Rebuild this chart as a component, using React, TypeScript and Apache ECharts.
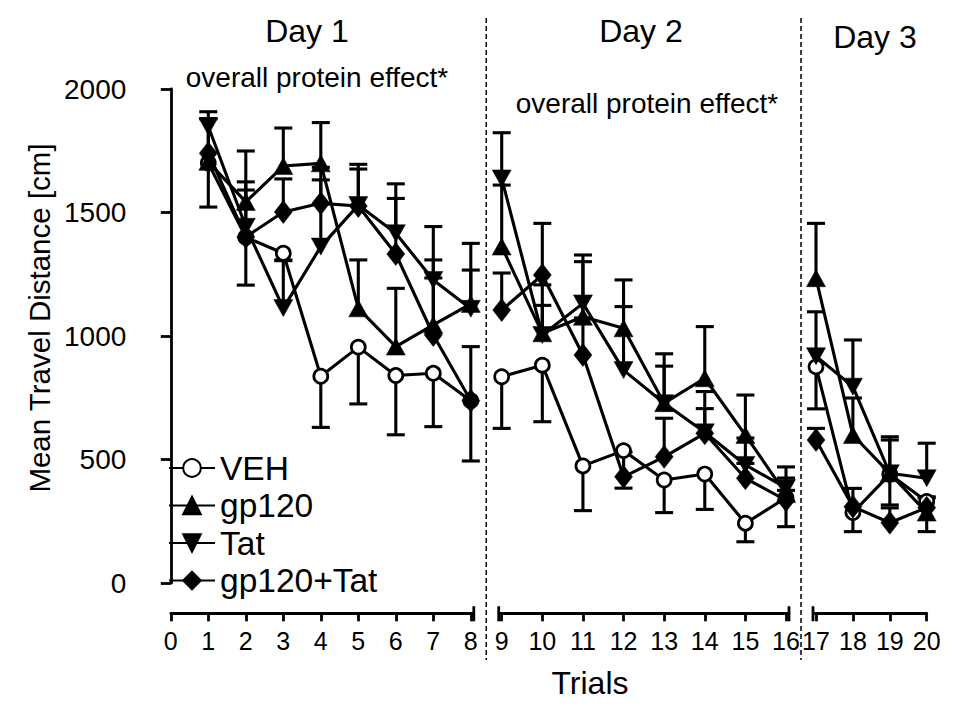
import React, { useEffect, useRef } from "react";
import * as echarts from "echarts";

const day1Trials = [1, 2, 3, 4, 5, 6, 7, 8];
const day2Trials = [9, 10, 11, 12, 13, 14, 15, 16];
const day3Trials = [17, 18, 19, 20];
const dayLabels = ["Day 1", "Day 2", "Day 3"];
const effectLabel = "overall protein effect*";

const vehMean = [1700, 1400, 1335, 837, 955, 840, 849, 738, 835, 882, 474, 536, 417, 441, 242, 345, 875, 285, 440, 330];
const vehSem = [178, 194, 30, 207, 230, 240, 216, 244, 209, 229, 181, 152, 132, 143, 75, 117, 170, 77, 124, 122];
const gp120Mean = [1705, 1543, 1688, 1699, 1112, 957, 1045, 1130, 1362, 1011, 1078, 1031, 728, 829, 599, 360, 1234, 599, 444, 285];
const gp120Sem = [175, 206, 154, 165, 196, 236, 263, 245, 249, 196, 223, 196, 200, 209, 162, 65, 222, 150, 148, 64];
const tatMean = [1848, 1442, 1113, 1362, 1530, 1416, 1227, 1110, 1638, 1004, 1132, 862, 728, 610, 478, 385, 918, 795, 444, 424];
const tatSem = [60, 182, 195, 270, 165, 200, 216, 157, 185, 120, 196, 257, 150, 165, 109, 85, 180, 189, 135, 142];
const comboMean = [1740, 1401, 1502, 1537, 1526, 1332, 1004, 738, 1105, 1247, 923, 430, 511, 606, 424, 335, 579, 309, 244, 305];
const comboSem = [140, 190, 134, 146, 150, 225, 231, 219, 150, 209, 150, 100, 156, 100, 60, 40, 47, 74, 60, 40];

const yTicks = [0, 500, 1000, 1500, 2000];

const FONT = "'Liberation Sans', Arial, Helvetica, sans-serif";

const days = [day1Trials, day2Trials, day3Trials];
const dayMins = [0, 9, 17];
const dayMaxs = [8, 16, 20];

const groups = [
  { name: "VEH", mean: vehMean, sem: vehSem, dir: -1, symbol: "circle", size: 14, rotate: 0, fill: "#fff" },
  { name: "gp120", mean: gp120Mean, sem: gp120Sem, dir: 1, symbol: "triangle", size: [19, 17], rotate: 0, fill: "#000" },
  { name: "Tat", mean: tatMean, sem: tatSem, dir: 1, symbol: "triangle", size: [19, 17], rotate: 180, fill: "#000" },
  { name: "gp120+Tat", mean: comboMean, sem: comboSem, dir: 1, symbol: "diamond", size: [18, 23], rotate: 0, fill: "#000" },
];

function trialIndex(t: number) {
  return t - 1;
}

export default function App() {
  const ref = useRef<HTMLDivElement>(null);
  useEffect(() => {
    if (!ref.current) return;
    const chart = echarts.init(ref.current, null, { renderer: "svg" });

    const grids = [
      { left: 170.8, width: 300, top: 89, height: 494 },
      { left: 501.7, width: 284.3, top: 89, height: 494 },
      { left: 816, width: 110.7, top: 89, height: 494 },
    ];

    const xAxes = grids.map((_, i) => ({
      type: "value",
      gridIndex: i,
      min: dayMins[i],
      max: dayMaxs[i],
      interval: 1,
      offset: 30.3,
      axisLine: { show: true, onZero: false, lineStyle: { color: "#000", width: 2.8 } },
      axisTick: { show: true, length: 8, lineStyle: { color: "#000", width: 2.8 } },
      axisLabel: {
        show: true,
        fontSize: 25,
        fontFamily: FONT,
        color: "#000",
        margin: 15,
        formatter: (v: number) => (Number.isInteger(v) ? String(v) : ""),
      },
      splitLine: { show: false },
    }));

    const yAxes = grids.map((_, i) => ({
      type: "value",
      gridIndex: i,
      min: yTicks[0],
      max: yTicks[yTicks.length - 1],
      interval: yTicks[1] - yTicks[0],
      show: i === 0,
      offset: 30,
      axisLine: { show: true, lineStyle: { color: "#000", width: 2.8 } },
      axisTick: { show: true, length: 10, lineStyle: { color: "#000", width: 2.8 } },
      axisLabel: {
        show: true,
        fontSize: 28,
        fontFamily: FONT,
        color: "#000",
        margin: 14.5,
        formatter: (v: number) => String(v),
      },
      splitLine: { show: false },
    }));

    const series: any[] = [];
    days.forEach((trials, d) => {
      const errData: number[][] = [];
      groups.forEach((g) => {
        trials.forEach((t) => {
          const k = trialIndex(t);
          errData.push([t, g.mean[k], g.sem[k], g.dir]);
        });
      });
      series.push({
        type: "custom",
        xAxisIndex: d,
        yAxisIndex: d,
        z: 1,
        silent: true,
        data: errData,
        encode: { x: 0, y: 1 },
        renderItem: (params: any, api: any) => {
          const x = api.value(0);
          const y = api.value(1);
          const e = api.value(2);
          const dir = api.value(3);
          const p0 = api.coord([x, y]);
          const p1 = api.coord([x, y + dir * e]);
          const hw = 9;
          return {
            type: "group",
            children: [
              { type: "line", shape: { x1: p0[0], y1: p0[1], x2: p1[0], y2: p1[1] }, style: { stroke: "#000", lineWidth: 3.1 } },
              { type: "line", shape: { x1: p1[0] - hw, y1: p1[1], x2: p1[0] + hw, y2: p1[1] }, style: { stroke: "#000", lineWidth: 3.1 } },
            ],
          };
        },
      });
      groups.forEach((g, gi) => {
        series.push({
          type: "line",
          name: g.name,
          xAxisIndex: d,
          yAxisIndex: d,
          z: 2 + gi,
          data: trials.map((t) => [t, g.mean[trialIndex(t)]]),
          symbol: g.symbol,
          symbolSize: g.size,
          symbolRotate: g.rotate,
          showAllSymbol: true,
          lineStyle: { color: "#000", width: 3.1 },
          itemStyle: { color: g.fill, borderColor: "#000", borderWidth: g.name === "VEH" ? 2.7 : 0.5, opacity: 1 },
          emphasis: { disabled: true },
        });
      });
    });

    const txt = (text: string, x: number, y: number, size: number, extra: any = {}) => ({
      type: "text",
      x,
      y,
      ...extra,
      style: { text, fontSize: size, fontFamily: FONT, fill: "#000", align: "center", verticalAlign: "middle" },
    });

    const texts: any[] = [
      txt(dayLabels[0], 307, 31, 32),
      txt(dayLabels[1], 641, 31, 32),
      txt(dayLabels[2], 875, 37, 32),
      txt(effectLabel, 317, 77, 28),
      txt(effectLabel, 647, 103, 28),
      txt("Trials", 590, 683, 32),
      txt("Mean Travel Distance [cm]", 39, 318, 29.5, { rotation: Math.PI / 2 }),
    ];

    chart.setOption({
      animation: false,
      backgroundColor: "#fff",
      grid: grids,
      xAxis: xAxes,
      yAxis: yAxes,
      legend: {
        data: groups.map((g) => g.name),
        orient: "vertical",
        left: 168,
        top: 451,
        padding: 0,
        itemWidth: 46,
        itemHeight: 22,
        itemGap: 3.5,
        selectedMode: false,
        textStyle: { fontSize: 33.5, fontFamily: FONT, color: "#000", lineHeight: 33 },
      },
      series,
      graphic: texts,
    });

    const axisY = (chart.convertToPixel({ yAxisIndex: 0 }, 0) as number) + 30.3;
    const px = (gi: number, v: number) => chart.convertToPixel({ xAxisIndex: gi }, v) as number;
    const cap = (x: number, ext: number) => ({
      type: "polyline",
      shape: { points: [[x, axisY], [x + ext, axisY], [x + ext, axisY - 7], [x + ext, axisY + 8]] },
      style: { stroke: "#000", lineWidth: 2.8, fill: null },
    });
    const sep1 = (px(0, 8) + px(1, 9)) / 2;
    const sep2 = (px(1, 16) + px(2, 17)) / 2;
    const dash = (x: number) => ({
      type: "line",
      shape: { x1: x, y1: 18, x2: x, y2: 660 },
      style: { stroke: "#000", lineWidth: 1.5, lineDash: [5, 3] },
    });
    chart.setOption({
      graphic: [
        ...texts,
        cap(px(0, 8), 3),
        cap(px(1, 9), -3),
        cap(px(1, 16), 3),
        cap(px(2, 17), -3),
        dash(sep1),
        dash(sep2),
      ],
    });

    return () => chart.dispose();
  }, []);
  return <div ref={ref} style={{ position: "fixed", left: 0, top: 0, width: 966, height: 705 }} />;
}
